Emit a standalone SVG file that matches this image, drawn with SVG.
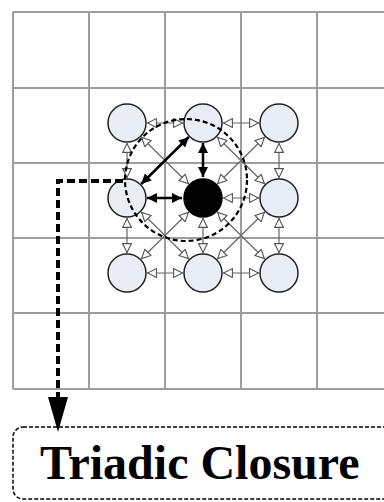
<svg xmlns="http://www.w3.org/2000/svg" width="384" height="502" viewBox="0 0 384 502">
<style>
.grid{stroke:#9d9d9d;stroke-width:2;fill:none}
.node{fill:#e8edf6;stroke:#222;stroke-width:1.5}
.hub{fill:#000;stroke:#000;stroke-width:1.5}
.thin{stroke:#666;stroke-width:1.2;marker-start:url(#open);marker-end:url(#open)}
.thick{stroke:#000;stroke-width:2.5;marker-start:url(#solid);marker-end:url(#solid)}
</style>
<defs>
<marker id="open" viewBox="0 0 10 10" refX="10" refY="5" markerWidth="11" markerHeight="10" markerUnits="userSpaceOnUse" orient="auto-start-reverse">
<path d="M0.6,0.6 L9.4,5 L0.6,9.4 z" fill="#fff" stroke="#555" stroke-width="1.1"/>
</marker>
<marker id="solid" viewBox="0 0 10 10" refX="10" refY="5" markerWidth="11" markerHeight="10" markerUnits="userSpaceOnUse" orient="auto-start-reverse">
<path d="M0,0 L10,5 L0,10 z" fill="#000"/>
</marker>
</defs>
<rect width="384" height="502" fill="#fff"/>
<g id="grid" class="grid">
<path d="M13,12 H400 M13,88 H400 M13,163 H400 M13,238 H400 M13,313 H400 M13,389 H400"/>
<path d="M13,12 V389 M89,12 V389 M165,12 V389 M241,12 V389 M317,12 V389 M393,12 V389"/>
</g>
<g id="connectors">
<line class="thin" x1="147" y1="123" x2="183" y2="123"/>
<line class="thin" x1="223" y1="123" x2="259" y2="123"/>
<line class="thin" x1="223" y1="198" x2="259" y2="198"/>
<line class="thin" x1="147" y1="273" x2="183" y2="273"/>
<line class="thin" x1="223" y1="273" x2="259" y2="273"/>
<line class="thin" x1="127" y1="143" x2="127" y2="178"/>
<line class="thin" x1="127" y1="218" x2="127" y2="253"/>
<line class="thin" x1="203" y1="218" x2="203" y2="253"/>
<line class="thin" x1="279" y1="143" x2="279" y2="178"/>
<line class="thin" x1="279" y1="218" x2="279" y2="253"/>
<line class="thin" x1="141.2" y1="137" x2="188.8" y2="184"/>
<line class="thin" x1="264.8" y1="137" x2="217.2" y2="184"/>
<line class="thin" x1="217.2" y1="137" x2="264.8" y2="184"/>
<line class="thin" x1="141.2" y1="212" x2="188.8" y2="259"/>
<line class="thin" x1="188.8" y1="212" x2="141.2" y2="259"/>
<line class="thin" x1="217.2" y1="212" x2="264.8" y2="259"/>
<line class="thin" x1="264.8" y1="212" x2="217.2" y2="259"/>
<line class="thick" x1="147" y1="198" x2="182" y2="198"/>
<line class="thick" x1="203" y1="143" x2="203" y2="177"/>
<line class="thick" x1="188.8" y1="137" x2="141.2" y2="184"/>
</g>
<g id="n-tl"><circle class="node" cx="127" cy="123" r="19"/></g>
<g id="n-tm"><circle class="node" cx="203" cy="123" r="19"/></g>
<g id="n-tr"><circle class="node" cx="279" cy="123" r="19"/></g>
<g id="n-ml"><circle class="node" cx="127" cy="198" r="19"/></g>
<g id="n-c"><circle class="hub" cx="203" cy="198" r="19"/></g>
<g id="n-mr"><circle class="node" cx="279" cy="198" r="19"/></g>
<g id="n-bl"><circle class="node" cx="127" cy="273" r="19"/></g>
<g id="n-bm"><circle class="node" cx="203" cy="273" r="19"/></g>
<g id="n-br"><circle class="node" cx="279" cy="273" r="19"/></g>
<g id="closure-region">
<circle cx="186" cy="180" r="61" fill="none" stroke="#000" stroke-width="2.2" stroke-dasharray="5 3"/>
</g>
<g id="closure-link">
<path d="M123,181 H58 V400" fill="none" stroke="#000" stroke-width="4" stroke-dasharray="8 4"/>
<polygon points="48,397 68,397 58,432" fill="#000"/>
</g>
<g id="label-box">
<rect x="13" y="427" width="400" height="72" rx="10" fill="none" stroke="#000" stroke-width="1.5" stroke-dasharray="4 2"/>
<text x="40" y="479" font-family="'Liberation Serif', 'Times New Roman', serif" font-weight="bold" font-size="48" fill="#000">Triadic Closure</text>
</g>
</svg>
